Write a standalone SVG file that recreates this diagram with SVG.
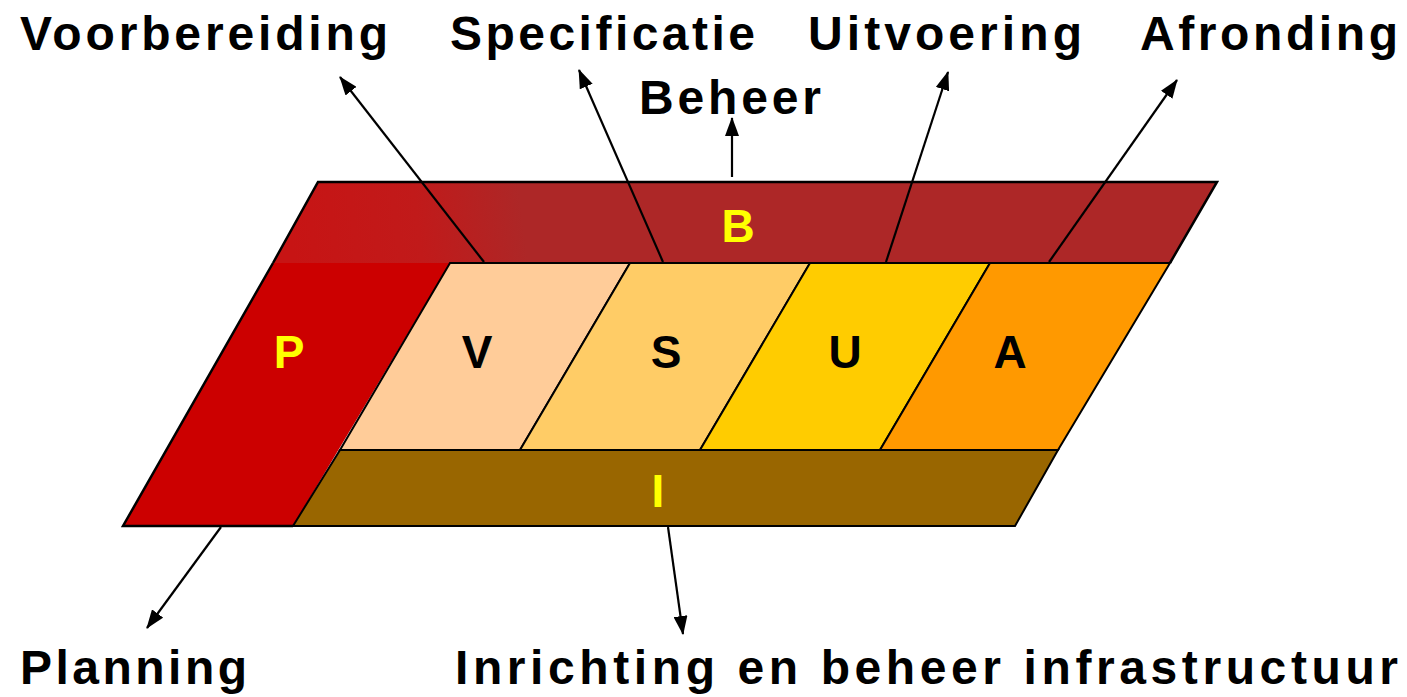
<svg xmlns="http://www.w3.org/2000/svg" width="1407" height="697" viewBox="0 0 1407 697">
<style>
.lbl{font-family:"Liberation Sans",Arial,sans-serif;font-weight:bold;font-size:48px;fill:#000}
.let{font-family:"Liberation Sans",Arial,sans-serif;font-weight:bold;font-size:46px;text-anchor:middle}
.yel{fill:#FFFF00}
.blk{fill:#000}
.edge{fill:none;stroke:#000;stroke-width:2.5;stroke-linejoin:miter}
.cell{stroke:#000;stroke-width:2}
.con{stroke:#000;stroke-width:2.2;fill:none;marker-end:url(#ah)}
</style>
<defs>
<marker id="ah" markerUnits="userSpaceOnUse" markerWidth="20" markerHeight="14" refX="18" refY="7" orient="auto">
<path d="M0,0 L19,7 L0,14 z" fill="#000"/>
</marker>
<linearGradient id="bg" gradientUnits="userSpaceOnUse" x1="290" y1="230" x2="520" y2="200">
<stop offset="0" stop-color="#C71414"/>
<stop offset="0.55" stop-color="#C11A1A"/>
<stop offset="1" stop-color="#AD2727"/>
</linearGradient>
</defs>
<rect width="1407" height="697" fill="#fff"/>
<g id="node-B">
<polygon points="273,263 318,182 1217,182 1170,263" fill="#AD2727"/>
<polygon points="273,263 318,182 560,182 560,263" fill="url(#bg)"/>
<path class="edge" d="M273,263 L318,182 L1217,182 L1170,263"/>
<text class="let yel" x="738" y="242">B</text>
</g>
<g id="node-P">
<polygon points="273,263 450,263 293,526 123,526" fill="#CC0000"/>
<path class="edge" d="M273,263 L123,526 L293,526"/>
<text class="let yel" x="289" y="368">P</text>
</g>
<g id="node-V">
<polygon class="cell" points="450,263 630,263 520,450 340,450" fill="#FFCC99"/>
<text class="let blk" x="477" y="368">V</text>
</g>
<g id="node-S">
<polygon class="cell" points="630,263 810,263 700,450 520,450" fill="#FFCC66"/>
<text class="let blk" x="666" y="368">S</text>
</g>
<g id="node-U">
<polygon class="cell" points="810,263 990,263 880,450 700,450" fill="#FFCC00"/>
<text class="let blk" x="845" y="368">U</text>
</g>
<g id="node-A">
<polygon class="cell" points="990,263 1170,263 1058,450 880,450" fill="#FF9900"/>
<text class="let blk" x="1010" y="368">A</text>
</g>
<g id="node-I">
<polygon class="cell" points="340,450 1058,450 1015,526 293,526" fill="#996600"/>
<text class="let yel" x="658" y="507">I</text>
</g>
<g id="connectors">
<line class="con" x1="484" y1="262" x2="340" y2="77"/>
<line class="con" x1="663" y1="262" x2="579" y2="70"/>
<line class="con" x1="732" y1="177" x2="732" y2="118"/>
<line class="con" x1="886" y1="262" x2="948" y2="72"/>
<line class="con" x1="1049" y1="262" x2="1177" y2="80"/>
<line class="con" x1="221" y1="527" x2="147" y2="628"/>
<line class="con" x1="668" y1="527" x2="683" y2="634"/>
</g>
<g id="labels">
<text class="lbl" x="20" y="50" textLength="368" lengthAdjust="spacing">Voorbereiding</text>
<text class="lbl" x="450" y="50" textLength="305" lengthAdjust="spacing">Specificatie</text>
<text class="lbl" x="808" y="50" textLength="274" lengthAdjust="spacing">Uitvoering</text>
<text class="lbl" x="1140" y="50" textLength="258" lengthAdjust="spacing">Afronding</text>
<text class="lbl" x="639" y="114" textLength="182" lengthAdjust="spacing">Beheer</text>
<text class="lbl" x="20" y="684" textLength="227" lengthAdjust="spacing">Planning</text>
<text class="lbl" x="455" y="684" textLength="943" lengthAdjust="spacing">Inrichting en beheer infrastructuur</text>
</g>
</svg>
